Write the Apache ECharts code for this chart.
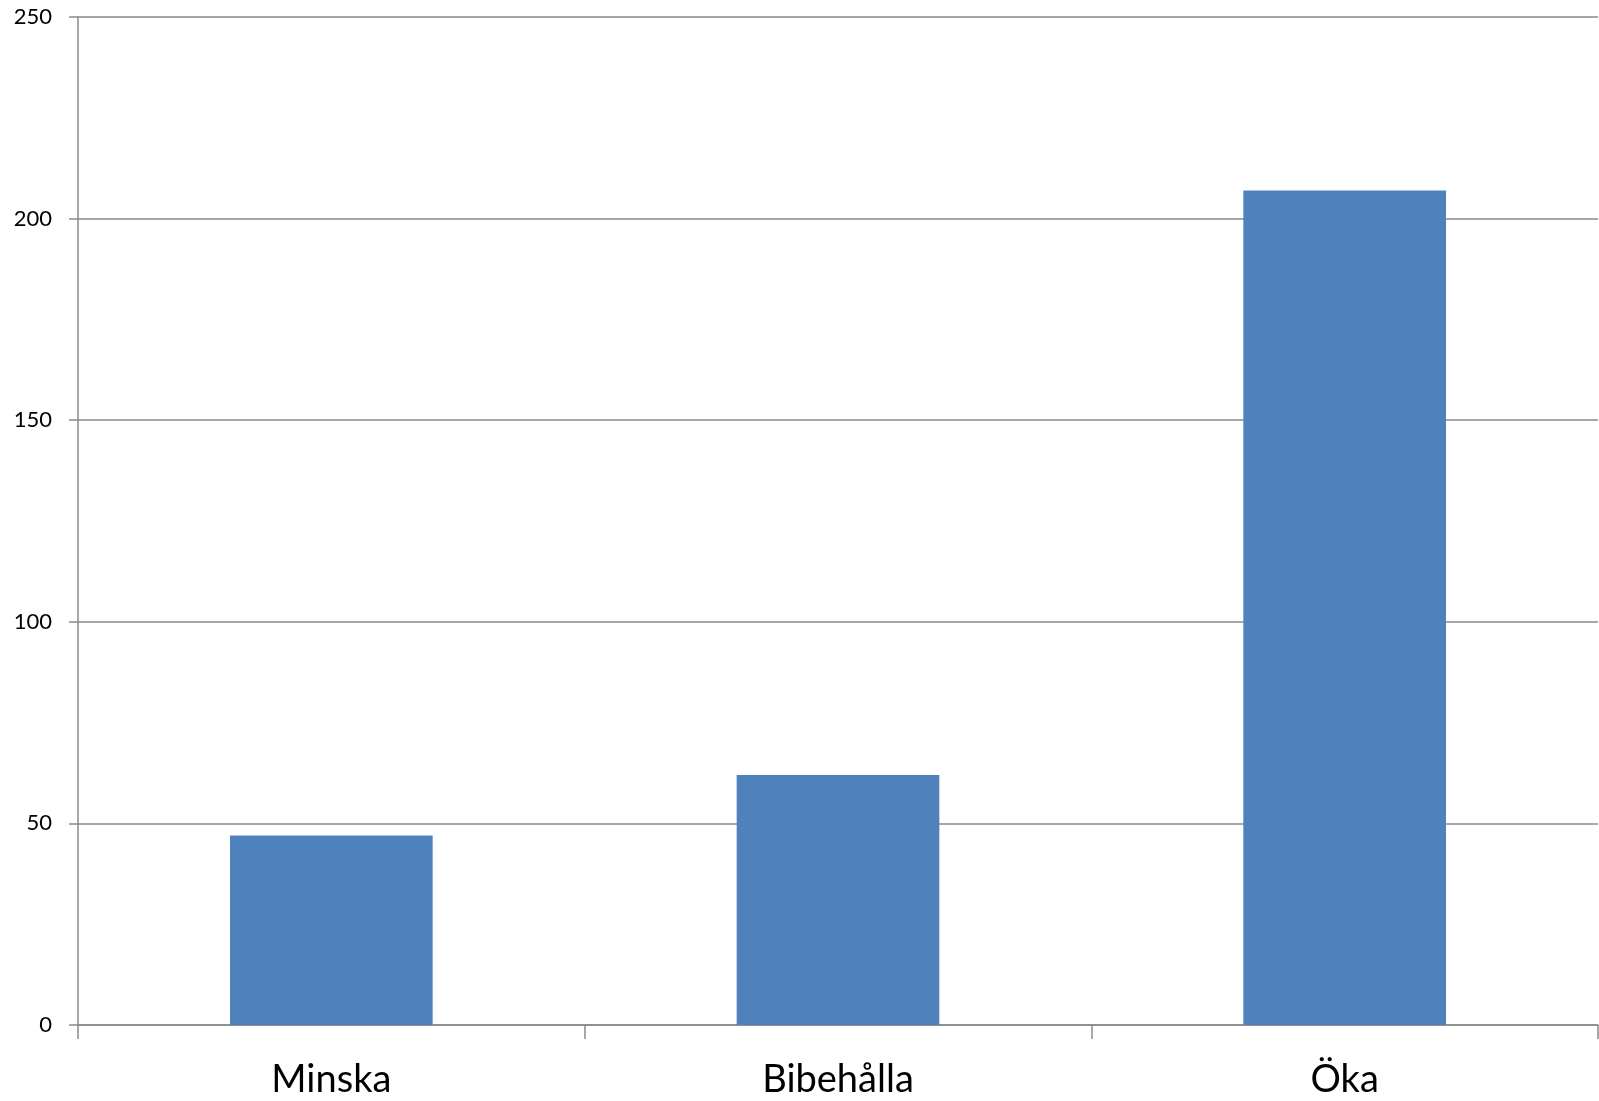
<!DOCTYPE html>
<html><head><meta charset="utf-8">
<script src="https://cdn.jsdelivr.net/npm/echarts@6/dist/echarts.min.js"></script>
<style>html,body{margin:0;padding:0;background:#fff}#c{width:1599px;height:1101px}</style>
</head><body><div id="c"></div>
<script>
const categories = ['Minska', 'Bibehålla', 'Öka'];
const values = [47, 62, 207];
const yTicks = [0, 50, 100, 150, 200, 250];

const chart = echarts.init(document.getElementById('c'));
chart.setOption({
  animation: false,
  backgroundColor: '#fff',
  grid: { left: 78, right: 1, top: 17, bottom: 76, containLabel: false },
  xAxis: {
    type: 'category', data: categories,
    axisLine: { lineStyle: { color: '#8a8a8a', width: 1.5 } },
    axisTick: { show: true, length: 14, lineStyle: { color: '#8a8a8a', width: 1.5 } },
    axisLabel: { fontFamily: 'Lato', fontSize: 38, color: '#000', margin: 36 }
  },
  yAxis: {
    type: 'value', min: yTicks[0], max: yTicks[yTicks.length - 1], interval: 50,
    axisLine: { show: true, lineStyle: { color: '#8a8a8a', width: 1.5 } },
    axisTick: { show: true, length: 9, lineStyle: { color: '#8a8a8a', width: 1.5 } },
    splitLine: { show: true, lineStyle: { color: '#8a8a8a', width: 1.5 } },
    axisLabel: { fontFamily: 'Lato', fontSize: 22, color: '#000', margin: 26 }
  },
  series: [{
    type: 'bar', data: values, barCategoryGap: '60%',
    itemStyle: { color: '#4F81BD' }
  }]
});
</script></body></html>
